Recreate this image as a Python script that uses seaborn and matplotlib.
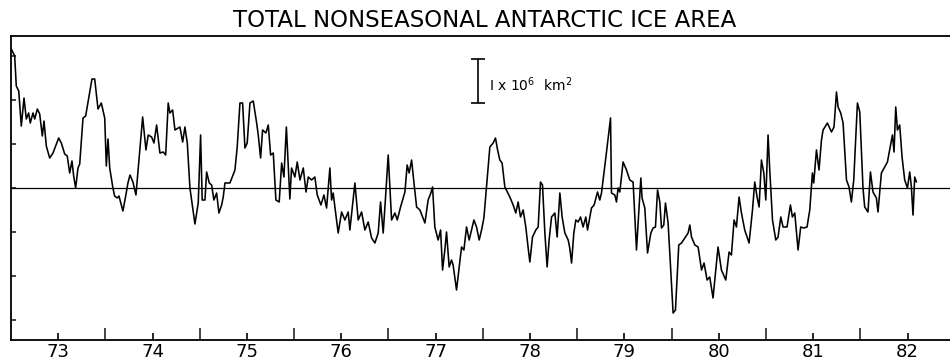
import matplotlib
matplotlib.use("Agg")
import matplotlib.pyplot as plt
import seaborn as sns
import pandas as pd

# ---- data ----
title = "TOTAL NONSEASONAL ANTARCTIC ICE AREA"
year_labels = ["73", "74", "75", "76", "77", "78", "79", "80", "81", "82"]
label_years = [1973.5, 1974.5, 1975.5, 1976.5, 1977.5, 1978.5, 1979.5, 1980.5, 1981.5, 1982.5]
boundary_years = [1974, 1975, 1976, 1977, 1978, 1979, 1980, 1981, 1982]
y_ticks = [-3, -2, -1, 0, 1, 2, 3]   # units of 1 x 10^6 km^2

year = [
    1973.003, 1973.039, 1973.056, 1973.082, 1973.109, 1973.138, 1973.162, 1973.187, 1973.204, 1973.233,
    1973.251, 1973.279, 1973.304, 1973.332, 1973.350, 1973.374, 1973.410, 1973.445, 1973.505, 1973.533,
    1973.569, 1973.596, 1973.622, 1973.646, 1973.664, 1973.685, 1973.710, 1973.728, 1973.763, 1973.791,
    1973.858, 1973.887, 1973.922, 1973.957, 1973.993, 1974.010, 1974.028, 1974.046, 1974.080, 1974.098,
    1974.126, 1974.144, 1974.186, 1974.221, 1974.239, 1974.261, 1974.292, 1974.324, 1974.395, 1974.430,
    1974.454, 1974.490, 1974.515, 1974.543, 1974.578, 1974.613, 1974.639, 1974.666, 1974.684, 1974.713,
    1974.737, 1974.790, 1974.819, 1974.843, 1974.868, 1974.896, 1974.949, 1974.984, 1975.009, 1975.026,
    1975.055, 1975.073, 1975.101, 1975.126, 1975.150, 1975.179, 1975.203, 1975.232, 1975.249, 1975.267,
    1975.320, 1975.373, 1975.397, 1975.426, 1975.454, 1975.479, 1975.503, 1975.532, 1975.567, 1975.603,
    1975.620, 1975.645, 1975.666, 1975.701, 1975.726, 1975.751, 1975.779, 1975.807, 1975.842, 1975.868,
    1975.892, 1975.918, 1975.955, 1975.973, 1976.008, 1976.033, 1976.062, 1976.097, 1976.126, 1976.150,
    1976.185, 1976.220, 1976.245, 1976.284, 1976.316, 1976.344, 1976.379, 1976.397, 1976.414, 1976.432,
    1976.467, 1976.503, 1976.538, 1976.573, 1976.591, 1976.644, 1976.679, 1976.715, 1976.750, 1976.785,
    1976.821, 1976.856, 1976.891, 1976.916, 1976.944, 1976.969, 1976.997, 1977.033, 1977.068, 1977.093,
    1977.128, 1977.174, 1977.198, 1977.219, 1977.245, 1977.269, 1977.298, 1977.333, 1977.386, 1977.420,
    1977.449, 1977.467, 1977.491, 1977.526, 1977.552, 1977.573, 1977.597, 1977.615, 1977.643, 1977.668,
    1977.685, 1977.721, 1977.749, 1977.774, 1977.799, 1977.827, 1977.855, 1977.880, 1977.905, 1977.933,
    1977.961, 1977.986, 1978.011, 1978.039, 1978.074, 1978.109, 1978.134, 1978.156, 1978.180, 1978.204,
    1978.233, 1978.286, 1978.321, 1978.349, 1978.374, 1978.399, 1978.427, 1978.455, 1978.480, 1978.498,
    1978.526, 1978.561, 1978.586, 1978.611, 1978.632, 1978.657, 1978.681, 1978.702, 1978.728, 1978.763,
    1978.787, 1978.816, 1978.840, 1978.869, 1978.904, 1978.921, 1978.940, 1978.964, 1978.985, 1979.010,
    1979.035, 1979.062, 1979.091, 1979.109, 1979.151, 1979.179, 1979.215, 1979.239, 1979.257, 1979.300,
    1979.353, 1979.363, 1979.398, 1979.416, 1979.433, 1979.451, 1979.486, 1979.522, 1979.557, 1979.592,
    1979.628, 1979.674, 1979.687, 1979.716, 1979.745, 1979.780, 1979.804, 1979.829, 1979.851, 1979.875,
    1979.893, 1979.917, 1979.935, 1979.963, 1979.991, 1980.016, 1980.041, 1980.076, 1980.105, 1980.140,
    1980.175, 1980.193, 1980.211, 1980.246, 1980.281, 1980.317, 1980.344, 1980.376, 1980.404, 1980.439,
    1980.492, 1980.528, 1980.574, 1980.609, 1980.634, 1980.662, 1980.687, 1980.715, 1980.740, 1980.775,
    1980.821, 1980.857, 1980.881, 1980.906, 1980.927, 1980.952, 1980.977, 1980.998, 1981.022, 1981.040,
    1981.069, 1981.104, 1981.128, 1981.157, 1981.181, 1981.223, 1981.259, 1981.280, 1981.305, 1981.340,
    1981.368, 1981.400, 1981.435, 1981.464, 1981.492, 1981.506, 1981.535, 1981.562, 1981.588, 1981.605,
    1981.651, 1981.694, 1981.721, 1981.747, 1981.764, 1981.792, 1981.817, 1981.853, 1981.880, 1981.905,
    1981.930, 1981.969, 1981.994, 1982.028, 1982.046, 1982.081, 1982.107, 1982.134, 1982.170, 1982.187,
    1982.223, 1982.258, 1982.287, 1982.311, 1982.340, 1982.357, 1982.375, 1982.393, 1982.417, 1982.442,
    1982.470, 1982.499, 1982.523, 1982.541, 1982.558, 1982.576, 1982.594,
]

ice_anomaly = [  # 10^6 km^2
    3.159, 3.000, 2.318, 2.205, 1.409, 2.045, 1.568, 1.705, 1.477, 1.705,
    1.568, 1.795, 1.682, 1.182, 1.523, 0.955, 0.682, 0.795, 1.136, 1.023,
    0.773, 0.727, 0.341, 0.614, 0.273, 0.000, 0.455, 0.545, 1.591, 1.636,
    2.477, 2.477, 1.795, 1.932, 1.591, 0.500, 1.114, 0.455, 0.000, -0.182,
    -0.227, -0.182, -0.523, -0.114, 0.114, 0.295, 0.136, -0.159, 1.614, 0.864,
    1.205, 1.159, 1.023, 1.432, 0.795, 0.818, 0.750, 1.932, 1.705, 1.773,
    1.318, 1.386, 1.045, 1.386, 1.023, 0.000, -0.818, -0.341, 1.205, -0.273,
    -0.273, 0.364, 0.114, 0.068, -0.273, -0.114, -0.568, -0.386, -0.205, 0.114,
    0.114, 0.409, 0.932, 1.932, 1.932, 0.909, 1.023, 1.932, 1.977, 1.477,
    1.205, 0.682, 1.318, 1.250, 1.432, 0.750, 0.795, -0.273, -0.318, 0.568,
    0.250, 1.386, -0.250, 0.455, 0.250, 0.591, 0.182, 0.455, -0.091, 0.250,
    0.182, 0.250, -0.159, -0.386, -0.159, -0.455, 0.455, -0.273, -0.114, -0.432,
    -1.023, -0.545, -0.727, -0.545, -0.955, 0.114, -0.727, -0.545, -0.955, -0.773,
    -1.136, -1.250, -1.023, -0.318, -1.023, -0.205, 0.750, -0.727, -0.568, -0.727,
    -0.432, -0.091, 0.523, 0.341, 0.636, 0.136, -0.432, -0.500, -0.795, -0.273,
    -0.114, 0.023, -0.886, -1.182, -0.955, -1.864, -1.409, -1.000, -1.795, -1.636,
    -1.750, -2.318, -1.795, -1.341, -1.409, -0.886, -1.182, -0.955, -0.727, -0.886,
    -1.182, -0.955, -0.682, 0.023, 0.932, 1.023, 1.136, 0.864, 0.636, 0.568,
    0.023, -0.205, -0.386, -0.568, -0.318, -0.659, -0.500, -0.886, -1.364, -1.682,
    -1.114, -0.955, -0.886, 0.136, 0.068, -1.023, -1.795, -1.182, -0.659, -0.568,
    -1.114, -0.114, -0.659, -1.023, -1.182, -1.364, -1.705, -1.023, -0.727, -0.773,
    -0.659, -0.886, -0.659, -0.955, -0.455, -0.386, -0.091, -0.273, -0.114, 0.636,
    1.591, -0.114, -0.159, -0.318, 0.000, -0.091, 0.591, 0.409, 0.182, 0.136,
    -1.409, 0.227, -0.227, -0.455, -1.477, -1.023, -0.909, -0.886, -0.045, -0.318,
    -0.909, -0.841, -0.341, -0.795, -1.864, -2.841, -2.773, -1.295, -1.250, -1.136,
    -1.023, -0.841, -1.114, -1.295, -1.341, -1.864, -1.705, -2.091, -2.023, -2.500,
    -1.341, -1.864, -2.091, -1.455, -1.523, -0.727, -0.886, -0.205, -0.568, -0.955,
    -1.250, -0.500, 0.136, -0.205, -0.432, 0.636, 0.341, -0.273, 1.205, 0.409,
    -0.727, -1.182, -1.114, -0.659, -0.886, -0.886, -0.386, -0.659, -0.568, -1.409,
    -0.886, -0.909, -0.886, -0.500, 0.341, 0.114, 0.864, 0.409, 1.091, 1.318,
    1.477, 1.273, 1.386, 2.182, 1.841, 1.705, 1.477, 0.182, 0.023, -0.318,
    0.182, 1.932, 1.727, 0.000, -0.432, -0.545, 0.364, -0.091, -0.227, -0.545,
    0.341, 0.477, 0.591, 0.864, 1.205, 0.818, 1.841, 1.318, 1.432, 0.705,
    0.182, 0.000, 0.364, 0.023, -0.614, 0.250, 0.136,
]

df = pd.DataFrame({"year": year, "anomaly": ice_anomaly})

# ---- figure ----
sns.set_theme(style="ticks")
plt.rcParams["font.family"] = ["DejaVu Sans"]

fig = plt.figure(figsize=(9.5, 3.61), dpi=100)
ax = fig.add_axes([11 / 950, 1 - 340 / 361, 1 - 11 / 950, (340 - 36) / 361])

sns.lineplot(data=df, x="year", y="anomaly", ax=ax, estimator=None, sort=False,
             color="black", linewidth=1.15)
ax.axhline(0, color="black", linewidth=0.9)

ax.set_xlim(1973.0, 1982.95)
ax.set_ylim(-3.4545, 3.4545)
ax.set_xlabel("")
ax.set_ylabel("")

ax.set_xticks(label_years)
ax.set_xticklabels(year_labels, fontsize=13)
ax.set_xticks(boundary_years, minor=True)
ax.tick_params(axis="x", which="major", direction="in", length=5, width=1.2, pad=2, colors="black")
ax.tick_params(axis="x", which="minor", direction="in", length=9, width=1.2)
ax.set_yticks(y_ticks)
ax.set_yticklabels([])
ax.tick_params(axis="y", which="major", direction="in", length=3.5, width=1.2)

for side in ["top", "left", "bottom"]:
    ax.spines[side].set_visible(True)
    ax.spines[side].set_linewidth(1.3)
    ax.spines[side].set_color("black")
ax.spines["right"].set_visible(False)

# scale bar: 1 x 10^6 km^2
ax.errorbar([1977.95], [2.43], yerr=[0.5], color="black", capsize=5, elinewidth=1.2,
            capthick=1.2)
ax.text(1978.07, 2.35, r"I x 10$^6$  km$^2$", fontsize=10, va="center", ha="left",
        color="black")

fig.text(485 / 950, 1 - 27 / 361, title, ha="center", va="baseline", fontsize=16.5,
         color="black")

fig.savefig("out.png", dpi=100, facecolor="white")
